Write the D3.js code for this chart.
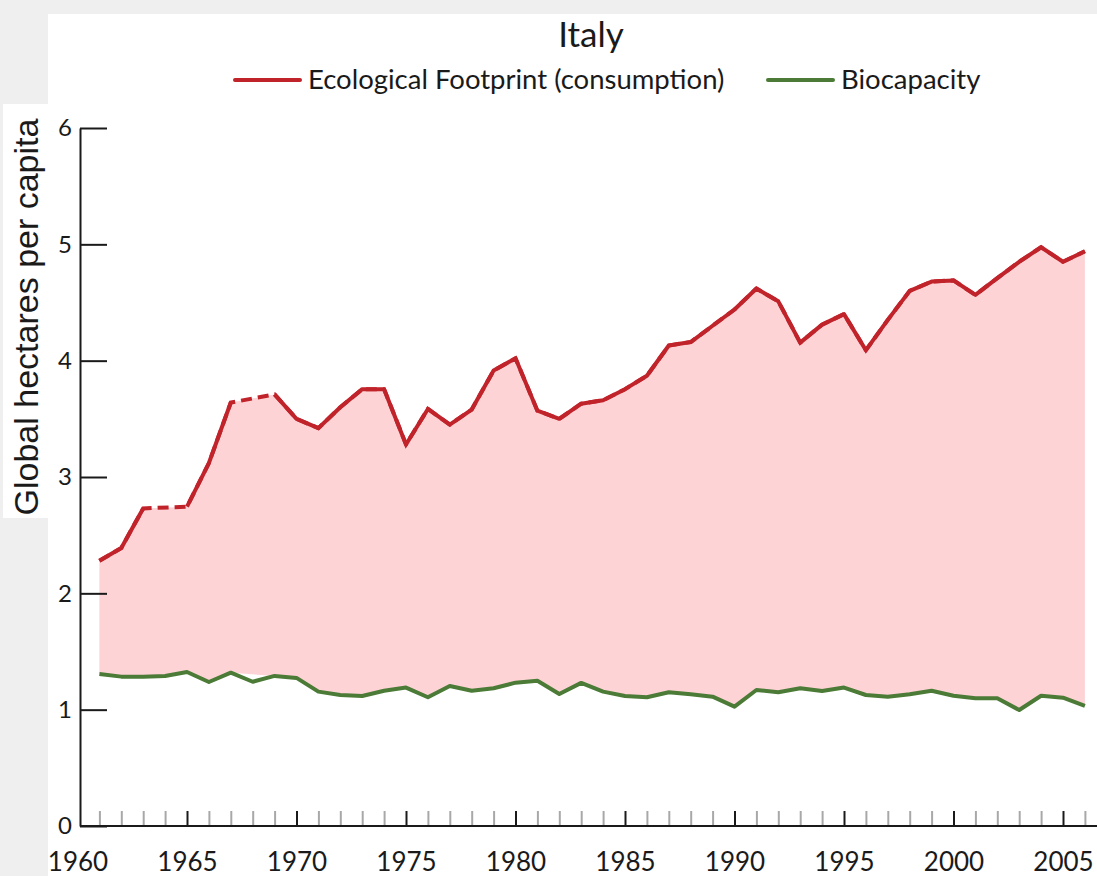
<!DOCTYPE html>
<html>
<head>
<meta charset="utf-8">
<script src="https://cdn.jsdelivr.net/npm/d3@7"></script>
<style>
  body { margin: 0; background: #efefef; }
  svg { display: block; }
</style>
</head>
<body>
<div class="chart"></div>
<script>
// years 1961-2006, footprint has gaps in 1964 and 1968 (drawn dashed)
const years = d3.range(1961, 2007);
const footprint = [2.28, 2.39, 2.73, null, 2.745, 3.12, 3.64, null, 3.71, 3.50,
  3.42, 3.60, 3.755, 3.755, 3.28, 3.585, 3.45, 3.58, 3.915, 4.02,
  3.57, 3.50, 3.63, 3.66, 3.755, 3.87, 4.13, 4.16, 4.30, 4.44,
  4.62, 4.51, 4.155, 4.31, 4.40, 4.09, 4.35, 4.60, 4.68, 4.69,
  4.565, 4.71, 4.85, 4.975, 4.85, 4.94];
const biocapacity = [1.307, 1.284, 1.284, 1.29, 1.324, 1.238, 1.318, 1.24, 1.29, 1.273,
  1.155, 1.126, 1.118, 1.163, 1.19, 1.107, 1.204, 1.163, 1.184, 1.232,
  1.249, 1.135, 1.23, 1.155, 1.118, 1.107, 1.15, 1.132, 1.112, 1.026,
  1.169, 1.15, 1.184, 1.16, 1.19, 1.126, 1.112, 1.132, 1.163, 1.12,
  1.098, 1.098, 0.997, 1.12, 1.103, 1.032];
const yTicks = [0, 1, 2, 3, 4, 5, 6];
const majorYears = [1960, 1965, 1970, 1975, 1980, 1985, 1990, 1995, 2000, 2005];
const minorYears = years.filter(y => y % 5 !== 0);

const red = "#c1232b", green = "#4b7b36", pink = "#fdd3d6";
const W = 1097, H = 876;
const axisX = 80;
const font = "Lato, 'Open Sans', sans-serif";

const data = years.map((yr, i) => ({year: yr, fp: footprint[i], bio: biocapacity[i]}));

const svg = d3.select('.chart').append('svg')
  .attr("width", W)
  .attr("height", H);

// white panels
svg.append("rect").attr("x", 48).attr("y", 14).attr("width", W - 48).attr("height", H - 14).attr("fill", "white");
svg.append("rect").attr("x", 3).attr("y", 104).attr("width", 46).attr("height", 414).attr("fill", "white");

const xScale = d3.scaleLinear().domain([1960, 2006]).range([77.5, 1084.9]);
const yScale = d3.scaleLinear().domain([0, 6]).range([826, 128]);

// area between the two series
const area = d3.area()
  .x(d => xScale(d.year))
  .y0(d => yScale(d.bio))
  .y1(d => yScale(d.fp));

svg.append("path")
  .datum(data.filter(d => d.fp != null))
  .attr("fill", pink)
  .attr("d", area);

// axes
const yAxis = d3.axisLeft(yScale)
  .tickValues(yTicks)
  .tickFormat(d3.format("d"))
  .tickSizeInner(-27)
  .tickSizeOuter(0)
  .tickPadding(8);

svg.append("g")
  .attr("class", "axis y-axis")
  .attr("transform", `translate(${axisX},0)`)
  .call(yAxis)
  .call(g => g.selectAll("path, line").attr("stroke", "#1a1a1a").attr("stroke-width", 2))
  .call(g => g.selectAll("text").attr("font-family", font).attr("font-size", 24).attr("fill", "#1a1a1a"));

const xMinor = d3.axisBottom(xScale)
  .tickValues(minorYears)
  .tickFormat("")
  .tickSizeInner(-15)
  .tickSizeOuter(0);

svg.append("g")
  .attr("class", "axis x-minor")
  .attr("transform", `translate(0,${yScale(0)})`)
  .call(xMinor)
  .call(g => g.select(".domain").remove())
  .call(g => g.selectAll("line").attr("stroke", "#a8a8a8").attr("stroke-width", 2));

const xAxis = d3.axisBottom(xScale)
  .tickValues(majorYears)
  .tickFormat(d3.format("d"))
  .tickSizeInner(-15)
  .tickSizeOuter(0)
  .tickPadding(27);

svg.append("g")
  .attr("class", "axis x-axis")
  .attr("transform", `translate(0,${yScale(0)})`)
  .call(xAxis)
  .call(g => g.select(".domain").remove())
  .call(g => g.selectAll("line").attr("stroke", "#1a1a1a").attr("stroke-width", 2))
  .call(g => g.selectAll(".tick").filter(d => d === 1960).select("line").remove())
  .call(g => g.selectAll("text").attr("font-family", font).attr("font-size", 26).attr("fill", "#1a1a1a"));

svg.append("line")
  .attr("x1", axisX).attr("x2", W)
  .attr("y1", yScale(0)).attr("y2", yScale(0))
  .attr("stroke", "#1a1a1a").attr("stroke-width", 2);

// lines
const line = d3.line()
  .defined(d => d.v != null)
  .x(d => xScale(d.year))
  .y(d => yScale(d.v));

const fpPts = data.map(d => ({year: d.year, v: d.fp}));
const bioPts = data.map(d => ({year: d.year, v: d.bio}));

svg.append("path")
  .datum(fpPts.filter(d => d.v != null))
  .attr("fill", "none")
  .attr("stroke", red)
  .attr("stroke-width", 4)
  .attr("stroke-dasharray", "11,6")
  .attr("d", line);

svg.append("path")
  .datum(fpPts)
  .attr("fill", "none")
  .attr("stroke", red)
  .attr("stroke-width", 4)
  .attr("stroke-linejoin", "round")
  .attr("d", line);

svg.append("path")
  .datum(bioPts)
  .attr("fill", "none")
  .attr("stroke", green)
  .attr("stroke-width", 4)
  .attr("stroke-linejoin", "round")
  .attr("d", line);

// title and legend
svg.append("text")
  .attr("x", 591).attr("y", 47)
  .attr("text-anchor", "middle")
  .attr("font-family", font)
  .attr("font-size", 35)
  .attr("fill", "#1a1a1a")
  .text("Italy");

const legendItems = [
  {label: "Ecological Footprint (consumption)", color: red, x: 235},
  {label: "Biocapacity", color: green, x: 768}
];

const legend = svg.selectAll(".legend")
  .data(legendItems)
  .enter()
  .append("g")
  .attr("class", "legend")
  .attr("transform", d => `translate(${d.x},80)`);

legend.append("line")
  .attr("x1", 0).attr("x2", 65)
  .attr("stroke", d => d.color)
  .attr("stroke-width", 4)
  .attr("stroke-linecap", "round");

legend.append("text")
  .attr("x", 73).attr("y", 9)
  .attr("font-family", font)
  .attr("font-size", 27.5)
  .attr("fill", "#1a1a1a")
  .text(d => d.label);

// y axis title
svg.append("text")
  .attr("transform", "translate(38,317) rotate(-90)")
  .attr("text-anchor", "middle")
  .attr("font-family", "'Liberation Sans', Arial, sans-serif")
  .attr("font-size", 34)
  .attr("fill", "#1a1a1a")
  .text("Global hectares per capita");
</script>
</body>
</html>
